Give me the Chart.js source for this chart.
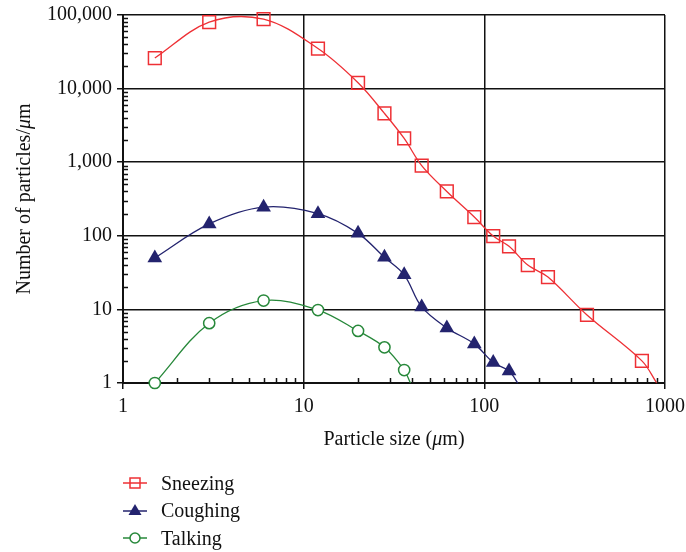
<!DOCTYPE html>
<html>
<head>
<meta charset="utf-8">
<script src="https://cdn.jsdelivr.net/npm/chart.js@4.4.1/dist/chart.umd.min.js"></script>
<style>
  body { margin: 0; background: #fff; }
  #wrap { position: relative; width: 686px; height: 552px; font-family: "Liberation Serif", "DejaVu Serif", serif; color: #111; }
  #chart { position: absolute; left: 0; top: 0; }
  .xtitle { position: absolute; left: 194px; width: 400px; top: 428px; text-align: center; font-size: 20px; line-height: 20px; }
  .ytitle { position: absolute; left: -177px; top: 189px; width: 400px; text-align: center; font-size: 20px; line-height: 20px; transform: rotate(-90deg); }
  .legend { position: absolute; left: 122px; top: 469px; font-size: 20px; }
  .legend div { height: 27.5px; line-height: 20px; display: flex; align-items: center; }
  .legend svg { margin-right: 13px; }
</style>
</head>
<body>
<div id="wrap">
  <canvas id="chart" width="686" height="552"></canvas>
  <div class="xtitle">Particle size (<i>μ</i>m)</div>
  <div class="ytitle">Number of particles/<i>μ</i>m</div>
  <div class="legend">
    <div><svg width="26" height="14"><line x1="1" y1="7" x2="25" y2="7" stroke="#ee3035" stroke-width="1.5"/><rect x="8" y="2" width="10" height="10" fill="none" stroke="#ee3035" stroke-width="1.5"/></svg>Sneezing</div>
    <div><svg width="26" height="14"><line x1="1" y1="8" x2="25" y2="8" stroke="#23236e" stroke-width="1.5"/><polygon points="13,1 19.5,12 6.5,12" fill="#23236e"/></svg>Coughing</div>
    <div><svg width="26" height="14"><line x1="1" y1="7" x2="25" y2="7" stroke="#27883a" stroke-width="1.5"/><circle cx="13" cy="7" r="5" fill="#fff" stroke="#27883a" stroke-width="1.5"/></svg>Talking</div>
  </div>
</div>
<script>
// particle size (um) and counts per um
const sneezeX = [1.5, 3, 6, 12, 20, 28, 36, 45, 62, 88, 112, 137, 174, 225, 370, 745, 900];
const sneezeY = [26000, 80000, 88000, 35000, 12000, 4600, 2100, 900, 400, 180, 99, 72, 40, 27.5, 8.4, 2.0, 1];
const coughX = [1.5, 3, 6, 12, 20, 28, 36, 45, 62, 88, 112, 137, 153];
const coughY = [50, 145, 245, 200, 108, 51, 29.5, 10.8, 5.6, 3.4, 1.9, 1.46, 1];
const talkX = [1.5, 3, 6, 12, 20, 28, 36, 39];
const talkY = [1.0, 6.5, 13.2, 9.8, 5.1, 3.05, 1.5, 1];

const xMajor = [1, 10, 100, 1000];
const yMajor = [1, 10, 100, 1000, 10000, 100000];

function toPoints(xs, ys) {
    return xs.map((x, i) => ({ x: x, y: ys[i] }));
}
// last point only closes the curve onto the axis, no marker
function radii(xs, r) {
    return xs.map((x, i) => i === xs.length - 1 ? 0 : r);
}
function isMajor(v) {
    const l = Math.log10(v);
    return Math.abs(l - Math.round(l)) < 1e-9;
}

const minorTicks = {
    id: 'minorTicks',
    afterDraw(chart) {
        const ctx = chart.ctx;
        const xs = chart.scales.x, ys = chart.scales.y;
        const a = chart.chartArea;
        ctx.save();
        ctx.strokeStyle = '#111';
        ctx.lineWidth = 1.5;
        ctx.beginPath();
        for (let d = 1; d < 1000; d *= 10) {
            for (let k = 2; k <= 9; k++) {
                const px = Math.round(xs.getPixelForValue(k * d)) + 0.5;
                ctx.moveTo(px, a.bottom);
                ctx.lineTo(px, a.bottom - 5);
            }
        }
        for (let d = 1; d < 100000; d *= 10) {
            for (let k = 2; k <= 9; k++) {
                const py = Math.round(ys.getPixelForValue(k * d)) + 0.5;
                ctx.moveTo(a.left, py);
                ctx.lineTo(a.left + 5, py);
            }
        }
        ctx.stroke();
        ctx.restore();
    }
};

const gridColor = c => (c.tick && isMajor(c.tick.value)) ? '#111' : 'rgba(0,0,0,0)';

function fixBox(s, size) {
    if (s.isHorizontal()) s.height = size; else s.width = size;
    s.paddingLeft = s.paddingRight = s.paddingTop = s.paddingBottom = 0;
}

new Chart(document.getElementById('chart'), {
    type: 'line',
    data: {
        datasets: [{
            label: 'Sneezing',
            data: toPoints(sneezeX, sneezeY),
            borderColor: '#ee3035',
            borderWidth: 1.3,
            pointStyle: 'rect',
            pointRadius: radii(sneezeX, 9),
            pointBorderWidth: 1.5,
            pointBorderColor: '#ee3035',
            pointBackgroundColor: 'rgba(0,0,0,0)',
            tension: 0.35,
            clip: 12
        }, {
            label: 'Coughing',
            data: toPoints(coughX, coughY),
            borderColor: '#23236e',
            borderWidth: 1.3,
            pointStyle: 'triangle',
            pointRadius: radii(coughX, 8.5),
            pointBorderWidth: 0,
            pointBackgroundColor: '#23236e',
            tension: 0.35,
            clip: 12
        }, {
            label: 'Talking',
            data: toPoints(talkX, talkY),
            borderColor: '#27883a',
            borderWidth: 1.3,
            pointStyle: 'circle',
            pointRadius: radii(talkX, 5.6),
            pointBorderWidth: 1.5,
            pointBorderColor: '#27883a',
            pointBackgroundColor: '#fff',
            tension: 0.35,
            clip: 12
        }]
    },
    options: {
        responsive: false,
        animation: false,
        layout: { padding: { left: 0, top: 15, right: 21, bottom: 0 } },
        plugins: { legend: { display: false }, tooltip: { enabled: false } },
        scales: {
            x: {
                type: 'logarithmic',
                min: 1,
                max: 1000,
                afterFit: s => fixBox(s, 169),
                afterBuildTicks: s => { s.ticks = s.ticks.filter(t => isMajor(t.value)); },
                border: { color: '#111', width: 2 },
                grid: { color: gridColor, lineWidth: 1.5, tickLength: 6, tickColor: gridColor },
                ticks: {
                    color: '#111',
                    padding: 6,
                    autoSkip: false,
                    maxRotation: 0,
                    font: { family: 'Liberation Serif', size: 20 },
                    callback: v => xMajor.includes(v) ? String(v) : ''
                }
            },
            y: {
                type: 'logarithmic',
                min: 1,
                max: 100000,
                afterFit: s => fixBox(s, 123),
                afterBuildTicks: s => { s.ticks = s.ticks.filter(t => isMajor(t.value)); },
                border: { color: '#111', width: 2 },
                grid: { color: gridColor, lineWidth: 1.5, tickLength: 6, tickColor: gridColor },
                ticks: {
                    color: '#111',
                    padding: 5,
                    autoSkip: false,
                    font: { family: 'Liberation Serif', size: 20 },
                    callback: v => yMajor.includes(v) ? v.toLocaleString('en-US') : ''
                }
            }
        }
    },
    plugins: [minorTicks]
});
</script>
</body>
</html>
